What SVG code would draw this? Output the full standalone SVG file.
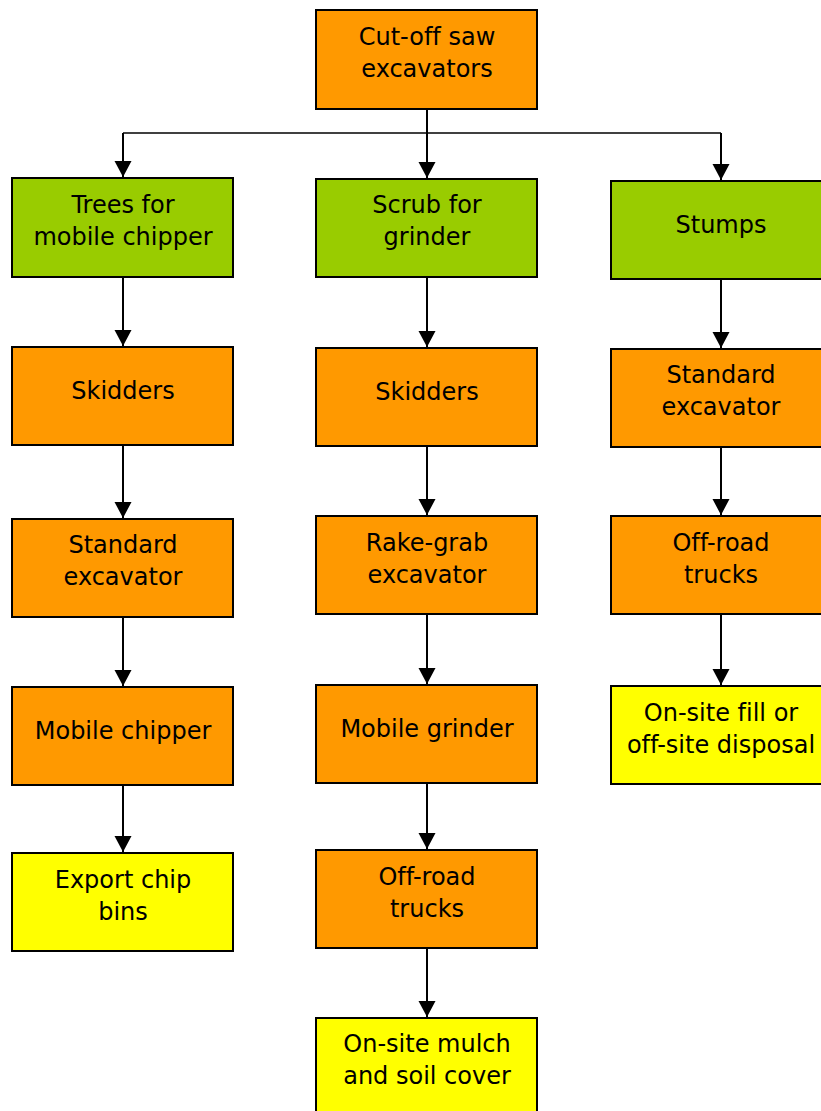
<svg xmlns="http://www.w3.org/2000/svg" width="821" height="1111" viewBox="0 0 821 1111">
<style>
.box{stroke:#000;stroke-width:2}
.o{fill:#FF9900}
.g{fill:#99CC00}
.y{fill:#FFFF00}
text{font-family:"DejaVu Sans","Liberation Sans",sans-serif;font-size:24px;fill:#000;text-anchor:middle;font-variant-ligatures:none}
.c{fill:none;stroke:#000;stroke-width:2}
.h{fill:none;stroke:#000;stroke-width:1.5}
</style>
<defs>
<marker id="ah" markerUnits="userSpaceOnUse" markerWidth="17" markerHeight="18" refX="16" refY="9" orient="auto">
<path d="M0,0.5 L16,9 L0,17.5 z" fill="#000"/>
</marker>
</defs>
<rect width="821" height="1111" fill="#fff"/>
<g id="connectors">
<path class="c" d="M427,109 V178" marker-end="url(#ah)"/>
<path class="h" d="M123,133 H721"/>
<path class="c" d="M123,133 V177" marker-end="url(#ah)"/>
<path class="c" d="M721,133 V180" marker-end="url(#ah)"/>
<path class="c" d="M123,277 V346" marker-end="url(#ah)"/>
<path class="c" d="M123,445 V518" marker-end="url(#ah)"/>
<path class="c" d="M123,617 V686" marker-end="url(#ah)"/>
<path class="c" d="M123,785 V852" marker-end="url(#ah)"/>
<path class="c" d="M427,277 V347" marker-end="url(#ah)"/>
<path class="c" d="M427,446 V515" marker-end="url(#ah)"/>
<path class="c" d="M427,614 V684" marker-end="url(#ah)"/>
<path class="c" d="M427,783 V849" marker-end="url(#ah)"/>
<path class="c" d="M427,948 V1017" marker-end="url(#ah)"/>
<path class="c" d="M721,279 V348" marker-end="url(#ah)"/>
<path class="c" d="M721,447 V515" marker-end="url(#ah)"/>
<path class="c" d="M721,614 V685" marker-end="url(#ah)"/>
</g>
<g id="n-cutoff"><rect class="box o" x="316" y="10" width="221" height="99"/><text x="427" y="45">Cut-off saw</text><text x="427" y="77">excavators</text></g>
<g id="n-trees"><rect class="box g" x="12" y="178" width="221" height="99"/><text x="123" y="213">Trees for</text><text x="123" y="245">mobile chipper</text></g>
<g id="n-scrub"><rect class="box g" x="316" y="179" width="221" height="98"/><text x="427" y="213">Scrub for</text><text x="427" y="245">grinder</text></g>
<g id="n-stumps"><rect class="box g" x="611" y="181" width="221" height="98"/><text x="721" y="233">Stumps</text></g>
<g id="n-skid1"><rect class="box o" x="12" y="347" width="221" height="98"/><text x="123" y="399">Skidders</text></g>
<g id="n-skid2"><rect class="box o" x="316" y="348" width="221" height="98"/><text x="427" y="400">Skidders</text></g>
<g id="n-stdexc2"><rect class="box o" x="611" y="349" width="221" height="98"/><text x="721" y="383">Standard</text><text x="721" y="415">excavator</text></g>
<g id="n-stdexc1"><rect class="box o" x="12" y="519" width="221" height="98"/><text x="123" y="553">Standard</text><text x="123" y="585">excavator</text></g>
<g id="n-rake"><rect class="box o" x="316" y="516" width="221" height="98"/><text x="427" y="551">Rake-grab</text><text x="427" y="583">excavator</text></g>
<g id="n-offroad2"><rect class="box o" x="611" y="516" width="221" height="98"/><text x="721" y="551">Off-road</text><text x="721" y="583">trucks</text></g>
<g id="n-chipper"><rect class="box o" x="12" y="687" width="221" height="98"/><text x="123" y="739">Mobile chipper</text></g>
<g id="n-grinder"><rect class="box o" x="316" y="685" width="221" height="98"/><text x="427" y="737">Mobile grinder</text></g>
<g id="n-fill"><rect class="box y" x="611" y="686" width="221" height="98"/><text x="721" y="721">On-site fill or</text><text x="721" y="753">off-site disposal</text></g>
<g id="n-export"><rect class="box y" x="12" y="853" width="221" height="98"/><text x="123" y="888">Export chip</text><text x="123" y="920">bins</text></g>
<g id="n-offroad1"><rect class="box o" x="316" y="850" width="221" height="98"/><text x="427" y="885">Off-road</text><text x="427" y="917">trucks</text></g>
<g id="n-mulch"><rect class="box y" x="316" y="1018" width="221" height="98"/><text x="427" y="1052">On-site mulch</text><text x="427" y="1084">and soil cover</text></g>
</svg>
